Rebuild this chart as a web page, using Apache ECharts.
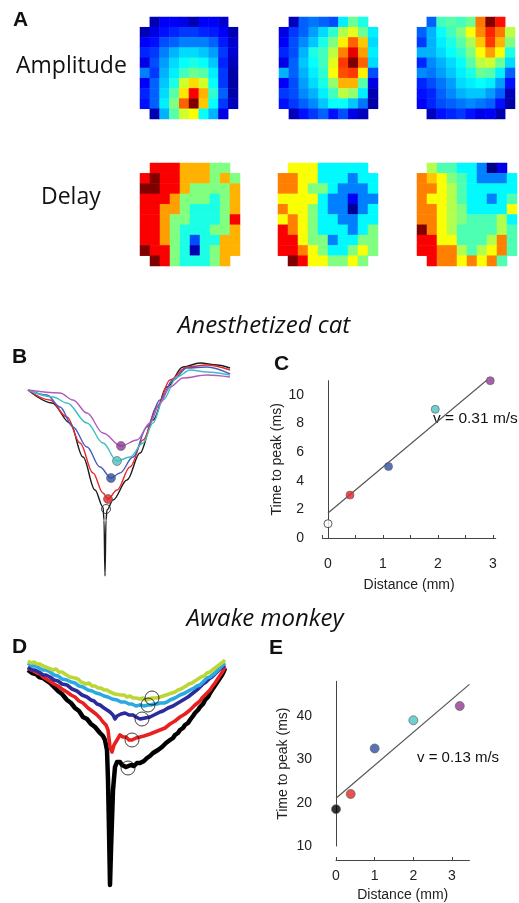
<!DOCTYPE html>
<html><head><meta charset="utf-8">
<script src="https://cdn.jsdelivr.net/npm/echarts@6/dist/echarts.min.js"></script>
<style>html,body{margin:0;padding:0;background:#fff}#c{width:519px;height:903px}</style>
</head><body><div id="c"></div>
<script>
// ---------- Panel A : heat maps (jet colour scale 0..100), null = corner cell not recorded
const amp1 = [
 [null,5,12,12,10,5,12,12,8,null],
 [5,10,14,16,18,18,16,15,12,5],
 [12,14,20,22,25,25,25,22,15,8],
 [16,18,25,30,34,34,32,28,18,8],
 [10,20,28,34,38,40,38,32,16,6],
 [25,18,30,36,44,48,46,36,18,4],
 [12,22,32,40,58,66,58,38,18,4],
 [16,22,34,46,65,88,70,42,22,4],
 [14,22,36,50,78,100,68,38,18,6],
 [null,5,30,46,58,62,38,30,10,null]
];
const amp2 = [
 [null,6,22,24,22,20,36,48,40,null],
 [10,18,22,28,34,42,55,60,48,36],
 [12,20,26,32,40,50,64,78,68,34],
 [16,20,30,40,44,56,75,90,72,36],
 [10,22,32,38,44,60,82,100,78,34],
 [30,22,30,36,42,62,80,82,64,20],
 [12,20,28,34,40,52,70,70,46,10],
 [18,20,26,30,36,44,56,52,36,5],
 [14,18,22,26,32,38,38,32,24,4],
 [null,6,14,18,22,14,20,10,6,null]
];
const amp3 = [
 [null,22,44,46,44,48,76,100,86,null],
 [22,30,38,44,50,62,74,84,76,56],
 [18,30,36,40,46,54,68,82,70,50],
 [30,30,34,38,42,50,62,72,62,40],
 [16,26,30,34,38,46,56,58,48,34],
 [26,24,28,32,36,40,48,46,36,22],
 [16,20,24,28,34,36,38,36,28,14],
 [14,16,22,26,30,32,32,28,22,6],
 [12,16,20,22,24,26,24,22,14,4],
 [null,6,14,16,18,14,10,12,5,null]
];
const del1 = [
 [null,88,88,88,70,70,70,50,50,null],
 [88,100,88,88,70,70,70,50,70,50],
 [100,100,88,88,70,50,50,50,50,70],
 [88,88,88,72,50,50,50,40,50,70],
 [88,88,72,72,50,40,40,40,50,70],
 [88,88,72,50,50,40,40,40,50,88],
 [88,88,72,50,40,40,40,50,50,70],
 [88,88,72,50,40,20,40,40,70,70],
 [100,88,88,50,40,5,40,50,70,70],
 [null,100,88,50,40,40,40,50,70,null]
];
const del2 = [
 [null,62,62,62,37,37,37,37,37,null],
 [75,75,62,62,37,37,37,25,37,37],
 [75,75,62,50,50,37,25,25,25,37],
 [62,62,62,62,37,25,25,12,25,25],
 [75,62,62,50,37,25,25,2,25,37],
 [62,75,62,50,37,37,25,25,37,37],
 [88,75,62,50,37,37,37,25,37,50],
 [88,88,62,50,50,25,37,37,50,50],
 [88,88,75,62,50,37,37,50,62,50],
 [null,100,88,62,62,50,50,62,50,null]
];
const del3 = [
 [null,55,45,45,37,37,25,0,10,null],
 [75,68,62,50,45,37,25,25,25,37],
 [75,75,62,55,45,37,37,37,37,37],
 [75,62,62,55,45,37,37,25,37,45],
 [75,75,62,55,50,37,37,37,37,62],
 [75,75,62,55,50,45,45,45,55,37],
 [100,75,62,55,45,45,45,45,55,45],
 [88,88,62,62,45,45,45,55,75,45],
 [88,88,75,75,55,45,55,62,75,45],
 [null,88,75,75,62,75,62,75,45,null]
];

// ---------- Panel B : anesthetized cat traces [sample, amplitude]
const bBlack  = [[0,0],[24,-13],[42,-33],[55,-67],[67,-100],[75,-117],[76,-130],[77,-186],[78,-130],[79,-120],[85,-110],[99,-90],[112,-63],[125,-30],[139,3],[155,23],[172,27],[189,25],[202,22]];
const bRed    = [[0,0],[22,-10],[39,-27],[52,-53],[65,-83],[75,-103],[80,-109],[89,-100],[102,-77],[115,-50],[129,-17],[142,10],[159,23],[179,25],[202,20]];
const bBlue   = [[0,0],[19,-5],[32,-17],[45,-37],[59,-57],[72,-77],[83,-88],[92,-83],[105,-67],[119,-37],[132,-10],[145,10],[159,22],[179,23],[202,16]];
const bCyan   = [[0,0],[25,-7],[39,-13],[59,-33],[75,-53],[89,-71],[102,-67],[115,-53],[125,-33],[135,-10],[149,13],[162,20],[179,18],[202,15]];
const bPurple = [[0,0],[32,-3],[45,-10],[59,-23],[75,-43],[93,-56],[109,-50],[122,-33],[132,-13],[142,3],[155,12],[179,15],[202,13]];
const bPeaks  = [[78,-119],[80,-109],[83,-88],[89,-71],[93,-56]];

// ---------- Panel C : distance vs time to peak (cat)
const cDist = [0, 0.4, 1.1, 1.95, 2.95];
const cTime = [1, 3, 5, 9, 11];
const cFit  = [[0, 1.75], [2.97, 11.3]];

// ---------- Panel D : awake monkey traces [sample, amplitude]
const dYellow = [[0,0],[3,-2],[6,-1],[9,-3],[12,-3],[15,-5],[17,-4],[20,-7],[22,-7],[25,-9],[28,-8],[31,-11],[34,-11],[37,-13],[39,-13],[42,-16],[44,-16],[47,-17],[50,-18],[53,-21],[55,-21],[58,-23],[61,-22],[64,-25],[67,-25],[70,-27],[73,-27],[76,-29],[79,-29],[82,-31],[84,-30],[87,-33],[89,-32],[93,-34],[96,-34],[99,-36],[102,-35],[105,-37],[108,-37],[112,-38],[115,-37],[118,-39],[120,-38],[124,-37],[128,-37],[132,-36],[135,-35],[138,-34],[141,-33],[144,-32],[147,-31],[150,-29],[153,-28],[155,-26],[158,-25],[161,-23],[164,-22],[167,-20],[170,-18],[173,-16],[176,-15],[179,-12],[182,-11],[184,-9],[187,-7],[189,-5],[191,-4],[193,-2],[195,-1],[197,1]];
const dLBlue  = [[0,-2],[4,-5],[8,-5],[11,-7],[15,-9],[18,-9],[22,-11],[26,-14],[30,-15],[34,-18],[39,-19],[43,-21],[47,-22],[51,-25],[55,-26],[60,-29],[64,-30],[68,-32],[72,-33],[76,-35],[80,-36],[84,-38],[89,-39],[93,-41],[97,-41],[101,-43],[104,-43],[108,-45],[112,-44],[116,-45],[120,-44],[123,-44],[126,-43],[129,-43],[132,-42],[136,-42],[139,-41],[142,-39],[144,-38],[147,-37],[149,-36],[152,-34],[154,-33],[157,-32],[159,-31],[162,-29],[166,-27],[169,-25],[172,-24],[176,-20],[179,-17],[182,-16],[184,-14],[187,-12],[189,-10],[191,-8],[193,-6],[195,-4],[197,-2]];
const dIndigo = [[0,-6],[4,-9],[7,-9],[11,-11],[15,-14],[18,-14],[22,-16],[26,-19],[30,-20],[34,-23],[39,-24],[44,-28],[49,-30],[54,-34],[59,-36],[63,-39],[66,-40],[69,-43],[72,-44],[76,-47],[79,-49],[82,-51],[85,-54],[87,-58],[89,-55],[90,-53],[93,-53],[97,-52],[101,-54],[105,-54],[108,-56],[110,-56],[112,-58],[114,-58],[117,-57],[119,-56],[122,-56],[124,-55],[128,-53],[132,-51],[135,-50],[137,-49],[140,-47],[142,-46],[145,-45],[147,-44],[150,-42],[152,-41],[155,-39],[157,-38],[160,-36],[162,-34],[165,-32],[167,-30],[170,-28],[172,-26],[175,-23],[178,-21],[181,-18],[184,-16],[187,-13],[190,-10],[193,-7],[197,-4]];
const dRed    = [[0,-7],[3,-9],[6,-10],[9,-12],[12,-13],[15,-16],[17,-16],[20,-19],[22,-19],[26,-23],[30,-25],[34,-28],[39,-31],[43,-34],[47,-36],[51,-40],[55,-42],[60,-47],[64,-50],[68,-53],[72,-57],[75,-61],[78,-64],[80,-69],[82,-86],[84,-91],[86,-84],[89,-79],[92,-74],[95,-76],[98,-76],[101,-79],[104,-79],[106,-78],[108,-77],[110,-77],[112,-76],[116,-75],[119,-74],[122,-73],[124,-72],[127,-71],[129,-70],[132,-69],[134,-68],[137,-67],[139,-66],[142,-63],[144,-62],[147,-60],[149,-59],[152,-56],[154,-55],[157,-53],[159,-52],[162,-49],[164,-47],[167,-44],[169,-42],[172,-40],[174,-37],[177,-34],[179,-32],[182,-29],[184,-26],[187,-22],[189,-19],[191,-16],[193,-13],[195,-10],[197,-6]];
const dBlack  = [[0,-9],[4,-12],[8,-13],[11,-16],[15,-17],[19,-20],[22,-22],[26,-26],[30,-30],[34,-33],[39,-39],[43,-42],[47,-47],[51,-50],[55,-56],[59,-58],[63,-63],[67,-66],[72,-72],[75,-75],[77,-79],[79,-89],[80,-119],[81,-169],[82,-224],[83,-189],[84,-159],[85,-129],[87,-106],[89,-101],[92,-101],[94,-104],[96,-103],[98,-106],[100,-107],[103,-104],[106,-105],[109,-102],[112,-102],[114,-101],[116,-100],[118,-98],[119,-97],[122,-95],[125,-92],[127,-91],[130,-89],[132,-88],[134,-86],[136,-84],[138,-82],[140,-81],[142,-79],[145,-77],[147,-74],[150,-72],[152,-69],[155,-67],[157,-64],[160,-62],[162,-59],[165,-55],[167,-52],[170,-49],[172,-46],[175,-43],[177,-39],[180,-36],[182,-32],[184,-29],[186,-26],[188,-23],[190,-20],[192,-17],[194,-14],[196,-10],[197,-7]];
const dPeaks  = [[124,-37],[120,-44],[114,-58],[104,-79],[100,-107]];

// ---------- Panel E : distance vs time to peak (monkey)
const eDist = [0, 0.38, 1.0, 2.0, 3.2];
const eTime = [18.5, 22, 32.5, 39, 42.3];
const eFit  = [[0, 21], [3.45, 47.3]];

const peakColors  = ['#ffffff', '#e52327', '#2f4fa3', '#4cc3c3', '#953797'];
const peakColorsE = ['#000000', '#e52327', '#2f4fa3', '#4cc3c3', '#953797'];

// ---------- build
const jet = ['#000080','#0000ff','#0080ff','#00ffff','#80ff80','#ffff00','#ff8000','#ff0000','#800000'];
const maps = [amp1, amp2, amp3, del1, del2, del3];
const heatGrids = [
  {left:140, top:17, width:98, height:102},
  {left:279, top:17, width:99, height:102},
  {left:417, top:17, width:98, height:102},
  {left:140, top:163, width:100, height:103},
  {left:278, top:163, width:100, height:103},
  {left:417, top:163, width:100, height:103}
];
const idx10 = ['0','1','2','3','4','5','6','7','8','9'];
function toCells(m){
  const out=[];
  for(let r=0;r<m.length;r++) for(let c=0;c<m[r].length;c++){
    if(m[r][c]!==null) out.push([c,r,m[r][c]]);
  }
  return out;
}
const AX = '#444';
const FONT = 'Liberation Sans, Arial, sans-serif';
const grids=[], xAxes=[], yAxes=[], series=[];
heatGrids.forEach((g,i)=>{
  grids.push(Object.assign({containLabel:false}, g));
  xAxes.push({gridIndex:i, type:'category', data:idx10, show:false});
  yAxes.push({gridIndex:i, type:'category', data:idx10, inverse:true, show:false});
  series.push({type:'heatmap', xAxisIndex:i, yAxisIndex:i, data:toCells(maps[i]), itemStyle:{borderWidth:0}, emphasis:{disabled:true}, silent:true});
});
// grid 6: B
grids.push({left:28, top:360, width:202, height:220});
xAxes.push({gridIndex:6, type:'value', min:0, max:202, show:false});
yAxes.push({gridIndex:6, type:'value', min:-190, max:30, show:false});
// grid 7: C
grids.push({left:322.5, top:380.7, width:173.25, height:157.3});
xAxes.push({gridIndex:7, type:'value', min:-0.1, max:3.05, splitNumber:6, offset:10,
  axisLine:{lineStyle:{color:AX}}, axisTick:{show:true, inside:true, length:3, lineStyle:{color:AX}},
  splitLine:{show:false}, axisLabel:{color:'#222', fontSize:14, fontFamily:FONT, margin:9, showMinLabel:true, showMaxLabel:false,
    formatter:v=>Number.isInteger(v)?String(v):''},
  name:'Distance (mm)', nameLocation:'middle', nameGap:30, nameTextStyle:{color:'#222', fontSize:14, fontFamily:FONT}});
yAxes.push({gridIndex:7, type:'value', min:0, max:11, interval:2, offset:10.5,
  axisLine:{show:true, lineStyle:{color:AX}}, axisTick:{show:false}, splitLine:{show:false},
  axisLabel:{color:'#222', fontSize:14, fontFamily:FONT, margin:8, showMaxLabel:false},
  name:'Time to peak (ms)', nameLocation:'middle', nameGap:28, nameRotate:90, nameTextStyle:{color:'#222', fontSize:14, fontFamily:FONT}});
// grid 8: D
grids.push({left:28, top:650, width:197, height:240});
xAxes.push({gridIndex:8, type:'value', min:0, max:197, show:false});
yAxes.push({gridIndex:8, type:'value', min:-229, max:11, show:false});
// grid 9: E
grids.push({left:336, top:681.3, width:133.4, height:164.7});
xAxes.push({gridIndex:9, type:'value', min:0, max:3.45, interval:1, offset:14,
  axisLine:{lineStyle:{color:AX}}, axisTick:{show:true, inside:true, length:3, lineStyle:{color:AX}},
  splitLine:{show:false}, axisLabel:{color:'#222', fontSize:14, fontFamily:FONT, margin:9, showMaxLabel:false,
    formatter:v=>Number.isInteger(v)?String(v):''},
  name:'Distance (mm)', nameLocation:'middle', nameGap:28, nameTextStyle:{color:'#222', fontSize:14, fontFamily:FONT}});
yAxes.push({gridIndex:9, type:'value', min:10, max:48, interval:10, offset:19,
  axisLine:{show:true, lineStyle:{color:AX}}, axisTick:{show:false}, splitLine:{show:false},
  axisLabel:{color:'#222', fontSize:14, fontFamily:FONT, margin:5, showMaxLabel:false},
  name:'Time to peak (ms)', nameLocation:'middle', nameGap:27, nameRotate:90, nameTextStyle:{color:'#222', fontSize:14, fontFamily:FONT}});

// B traces
[[bBlack,'#1c1c1c'],[bRed,'#e8282b'],[bBlue,'#4a5bbf'],[bCyan,'#3bbfc3'],[bPurple,'#b05cbd']].forEach(([d,c])=>{
  series.push({type:'line', xAxisIndex:6, yAxisIndex:6, data:d, showSymbol:false, smooth:0.35, smoothMonotone:'x',
    lineStyle:{color:c, width:1.4}, silent:true, z:2});
});
series.push({type:'scatter', xAxisIndex:6, yAxisIndex:6, symbolSize:9, z:5, silent:true,
  data:bPeaks.map((p,i)=>({value:p, itemStyle:{color:i===0?'rgba(255,255,255,0)':['#e02024','#2e4ea3','#4cc2c2','#8f3795'][i-1], borderColor:i===0?'#222':'#666', borderWidth:i===0?1:0.8}}))});
// C
series.push({type:'line', xAxisIndex:7, yAxisIndex:7, data:cFit, showSymbol:false, lineStyle:{color:'#555', width:1.2}, silent:true});
series.push({type:'scatter', xAxisIndex:7, yAxisIndex:7, symbolSize:8, z:5, silent:true,
  data:cDist.map((x,i)=>({value:[x,cTime[i]], itemStyle:{color:peakColors[i], borderColor:i===0?'#222':'#666', borderWidth:0.9}}))});
// D traces
[[dBlack,'#000000',4.5],[dRed,'#e8211f',3.6],[dIndigo,'#2b2b9c',3.6],[dLBlue,'#2baae2',3.6],[dYellow,'#bcd635',3.6]].forEach(([d,c,w])=>{
  series.push({type:'line', xAxisIndex:8, yAxisIndex:8, data:d, showSymbol:false, smooth:false,
    lineStyle:{color:c, width:w, join:'round'}, silent:true, z:2});
});
series.push({type:'scatter', xAxisIndex:8, yAxisIndex:8, symbolSize:14, z:5, silent:true,
  data:dPeaks, itemStyle:{color:'rgba(255,255,255,0)', borderColor:'#111', borderWidth:1}});
// E
series.push({type:'line', xAxisIndex:9, yAxisIndex:9, data:eFit, showSymbol:false, lineStyle:{color:'#555', width:1.2}, silent:true});
series.push({type:'scatter', xAxisIndex:9, yAxisIndex:9, symbolSize:9, z:5, silent:true,
  data:eDist.map((x,i)=>({value:[x,eTime[i]], itemStyle:{color:peakColorsE[i], borderColor:'#666', borderWidth:0.9}}))});

function txt(text,x,y,font,align){
  return {type:'text', x:x, y:y, silent:true, style:{text:text, font:font, fill:'#111', textAlign:align||'left', textVerticalAlign:'middle', align:align||'left', verticalAlign:'middle'}};
}
const LB = 'bold 21px Liberation Sans, Arial, sans-serif';
const CAL = '23px Open Sans, sans-serif';
const CALI = 'italic 24px Open Sans, sans-serif';
const option = {
  animation:false,
  backgroundColor:'#fff',
  visualMap:{show:false, type:'continuous', min:0, max:100, seriesIndex:[0,1,2,3,4,5], inRange:{color:jet}},
  grid:grids, xAxis:xAxes, yAxis:yAxes, series:series,
  graphic:[
    txt('A',13,20,LB), txt('B',12,357,LB), txt('C',274,364,LB), txt('D',12,647,LB), txt('E',269,648,LB),
    txt('Amplitude',16,66,CAL), txt('Delay',41,197,CAL),
    txt('Anesthetized cat',264,326,CALI,'center'), txt('Awake monkey',265,619,CALI,'center'),
    txt('v = 0.31 m/s',433,419,'15.5px Liberation Sans, Arial, sans-serif'),
    txt('v = 0.13 m/s',417,758,'15px Liberation Sans, Arial, sans-serif')
  ]
};
const chart = echarts.init(document.getElementById('c'), null, {renderer:'canvas'});
chart.setOption(option);
</script></body></html>
